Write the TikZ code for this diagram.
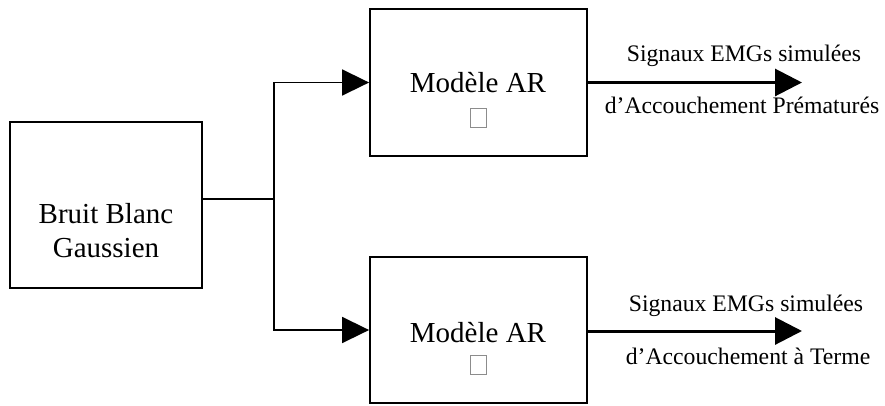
\documentclass[tikz,border=0pt]{standalone}
\usepackage{fontspec}
\setmainfont{Liberation Serif}
\usetikzlibrary{arrows.meta}
\begin{document}
\begin{tikzpicture}[x=1pt,y=-1pt,
  blockbox/.style={draw=black,line width=1.8pt,minimum width=#1,inner sep=0pt},
  bigtxt/.style={font=\fontsize{29}{33}\selectfont,anchor=base,inner sep=0pt},
  smalltxt/.style={font=\fontsize{23.7}{27}\selectfont,anchor=base,inner sep=0pt},
  tofu/.style={draw=black!45,line width=0.8pt,minimum width=16pt,minimum height=19pt,inner sep=0pt},
  inwire/.style={line width=1.6pt},
  inarrow/.style={line width=1.6pt,-{Triangle[length=27pt,width=26pt]}},
  outarrow/.style={line width=3pt,-{Triangle[length=27pt,width=27pt]}}]
\useasboundingbox (0,0) rectangle (885,405);
% boxes
\node[blockbox=192pt,minimum height=166pt] (bb) at (106,205) {};
\node[blockbox=217pt,minimum height=147pt] (ar1) at (478.5,82.5) {};
\node[blockbox=217pt,minimum height=146pt] (ar2) at (478.5,330) {};
% texts in boxes
\node[bigtxt] (bbt1) at (106,223) {Bruit Blanc};
\node[bigtxt] (bbt2) at (106,257) {Gaussien};
\node[bigtxt] (ar1t) at (478,92) {Modèle AR};
\node[tofu] (ar1q) at (478.5,118) {};
\node[bigtxt] (ar2t) at (478,342) {Modèle AR};
\node[tofu] (ar2q) at (478.5,365) {};
% wiring
\coordinate (j) at (274,199);
\draw[inwire] (bb.east |- j) -- (j);
\draw[inarrow] (j) |- (ar1.west);
\draw[inarrow] (j) |- (ar2.west);
% outputs
\coordinate (o1) at (802,82.5);
\coordinate (o2) at (802,331);
\draw[outarrow] (ar1.east |- o1) -- (o1);
\draw[outarrow] (ar2.east |- o2) -- (o2);
\node[smalltxt] (s1a) at (744,61) {Signaux EMGs simulées};
\node[smalltxt] (s1b) at (742,113) {d’Accouchement Prématurés};
\node[smalltxt] (s2a) at (746,311) {Signaux EMGs simulées};
\node[smalltxt] (s2b) at (748,364) {d’Accouchement à Terme};
\end{tikzpicture}
\end{document}
